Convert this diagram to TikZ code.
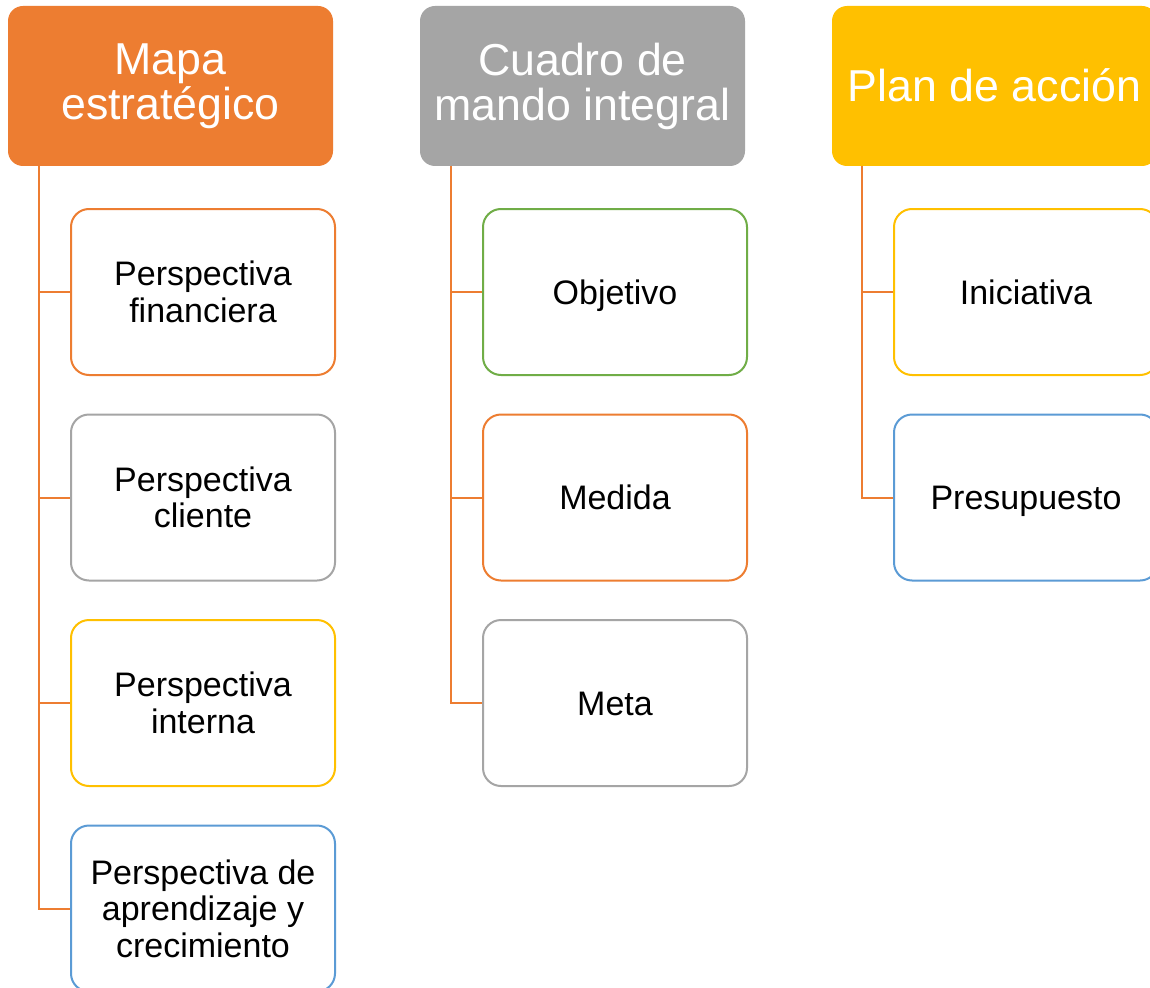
\documentclass[tikz,border=0pt]{standalone}
\usepackage{fontspec}
\setmainfont{Liberation Sans}
\definecolor{corange}{HTML}{ED7D31}
\definecolor{cgray}{HTML}{A5A5A5}
\definecolor{cgold}{HTML}{FFC000}
\definecolor{cblue}{HTML}{5B9BD5}
\definecolor{cgreen}{HTML}{70AD47}
\tikzset{
  header/.style={rectangle, rounded corners=15pt, minimum width=325pt, minimum height=160pt,
    inner sep=0pt, text=white, align=center, font=\fontsize{44.7}{45}\selectfont},
  child/.style={rectangle, rounded corners=18pt, draw=#1, line width=2pt, fill=white,
    minimum width=264pt, minimum height=166pt, inner sep=0pt, text=black, align=center,
    font=\fontsize{34}{36.5}\selectfont},
  oneline/.style={text height=24.5pt, text depth=0pt},
  conn/.style={draw=corange, line width=2pt}
}
\begin{document}
\begin{tikzpicture}[x=1pt,y=-1pt]
\useasboundingbox (0,0) rectangle (1150,987);
\fill[white] (0,0) rectangle (1150,987);
\clip (0,0) rectangle (1150,987);
% headers
\node[header, fill=corange] (mh) at (170.5,86) {Mapa\\estratégico};
\node[header, fill=cgray] (ch) at (582.5,86) {Cuadro de\\mando integral};
\node[header, fill=cgold, text height=31pt, text depth=0pt] (ph) at (994.5,86) {Plan de acción};
% connector start points
\coordinate (ms) at (39,166);
\coordinate (cs) at (451,166);
\coordinate (ps) at (862,166);
% children
\node[child=corange] (m1) at (203,292) {Perspectiva\\financiera};
\node[child=cgray]   (m2) at (203,497.5) {Perspectiva\\cliente};
\node[child=cgold]   (m3) at (203,703) {Perspectiva\\interna};
\node[child=cblue]   (m4) at (203,908.5) {Perspectiva de\\aprendizaje y\\crecimiento};
\node[child=cgreen, oneline]  (c1) at (615,292) {Objetivo};
\node[child=corange, oneline] (c2) at (615,497.5) {Medida};
\node[child=cgray, oneline]   (c3) at (615,703) {Meta};
\node[child=cgold, oneline]   (p1) at (1026,292) {Iniciativa};
\node[child=cblue, oneline]   (p2) at (1026,497.5) {Presupuesto};
\foreach \n in {m1,m2,m3,m4} \draw[conn] (ms) |- (\n.west);
\foreach \n in {c1,c2,c3} \draw[conn] (cs) |- (\n.west);
\foreach \n in {p1,p2} \draw[conn] (ps) |- (\n.west);
\end{tikzpicture}
\end{document}
